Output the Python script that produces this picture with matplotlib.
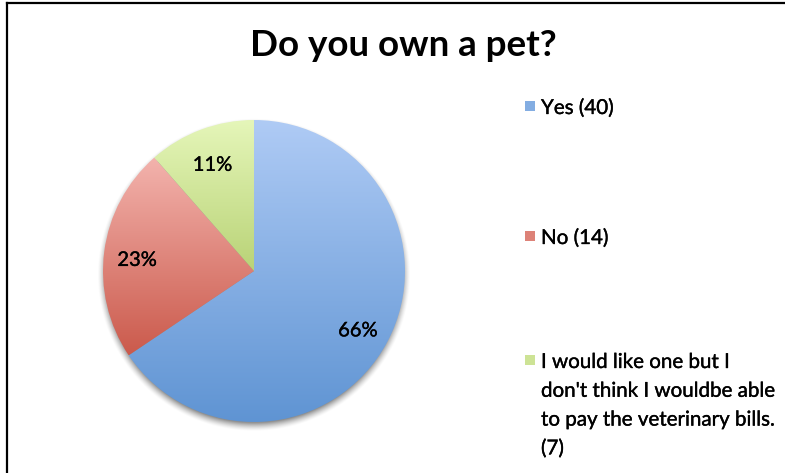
import numpy as np
import matplotlib
matplotlib.use("Agg")
import matplotlib.pyplot as plt
import matplotlib.patheffects as pe
from matplotlib.colors import LinearSegmentedColormap, to_rgb
from matplotlib.patches import Rectangle
from matplotlib.lines import Line2D

plt.rcParams['font.family'] = ['Lato', 'DejaVu Sans']

title = "Do you own a pet?"
answers = ["Yes", "No",
           "I would like one but I\ndon't think I wouldbe able\nto pay the veterinary bills.\n"]
counts = [40, 14, 7]
# top / bottom shade of each slice
tops = ["#afcbf5", "#f3b3ad", "#e5f6b9"]
bottoms = ["#5f94d3", "#cb5a4c", "#b9d377"]

# slightly heavier strokes for the body text
heavy = [pe.withStroke(linewidth=0.25, foreground="black")]

W, H = 785, 473
fig = plt.figure(figsize=(W / 100, H / 100), dpi=100)

# frame lines along top and left
fig.add_artist(Line2D([6.5 / W, 1], [1 - 3.5 / H, 1 - 3.5 / H], color="black", lw=1.6))
fig.add_artist(Line2D([6.5 / W, 6.5 / W], [0, 1 - 3.5 / H], color="black", lw=1.6))

fig.text(403 / W, 1 - 46 / H, title, ha="center", va="center",
         fontsize=26.5, fontweight="bold")

cx, cy, r = 254, 271, 151
ax = fig.add_axes([(cx - r - 20) / W, (H - cy - r - 20) / H, (2 * r + 40) / W, (2 * r + 40) / H])
lim = 1 + 20 / r
ax.set_aspect("equal")
ax.axis("off")

# soft drop shadow under the pie
g = np.linspace(-lim, lim, 400)
gx, gy = np.meshgrid(g, g)
d = np.hypot(gx, gy + 0.025)
shadow = np.clip((1.04 - d) / 0.06, 0, 1) ** 1.5 * 0.45
rgba = np.zeros((400, 400, 4))
rgba[..., 3] = shadow
ax.imshow(rgba, extent=(-lim, lim, -lim, lim), origin="lower", zorder=0)

wedges, _, autotexts = ax.pie(counts, startangle=90, counterclock=False, radius=1,
                              autopct=lambda p: f"{p:.0f}%", pctdistance=0.78,
                              textprops=dict(fontsize=14.5, color="black"),
                              wedgeprops=dict(linewidth=0))

for w, top, bot in zip(wedges, tops, bottoms):
    w.set_facecolor("none")
    x0, y0, x1, y1 = w.get_path().get_extents(w.get_patch_transform()).extents
    cmap = LinearSegmentedColormap.from_list("shade", [bot, top])
    grad = np.linspace(0, 1, 256).reshape(-1, 1)
    im = ax.imshow(grad, cmap=cmap, extent=(x0, x1, y0, y1), origin="lower",
                   aspect="auto", zorder=1)
    im.set_clip_path(w)
for t in autotexts:
    x, y = t.get_position()
    t.set_position((x, y - 0.03))
    t.set_zorder(3)
    t.set_path_effects(heavy)
ax.set_xlim(-lim, lim)
ax.set_ylim(-lim, lim)

# legend entries
rows = [106, 236, 360]
for name, n, top, bot, yp in zip(answers, counts, tops, bottoms, rows):
    label = f"{name}({n})" if name.endswith("\n") else f"{name} ({n})"
    mid = 0.45 * np.array(to_rgb(top)) + 0.55 * np.array(to_rgb(bot))
    fig.add_artist(Rectangle((525 / W, 1 - (yp + 5) / H), 10 / W, 10 / H,
                             facecolor=mid, edgecolor="none"))
    fig.text(541 / W, 1 - (yp - 8) / H, label, ha="left", va="top",
             fontsize=14.8, linespacing=1.55, path_effects=heavy)

fig.savefig("out.png", dpi=100, facecolor="white")
